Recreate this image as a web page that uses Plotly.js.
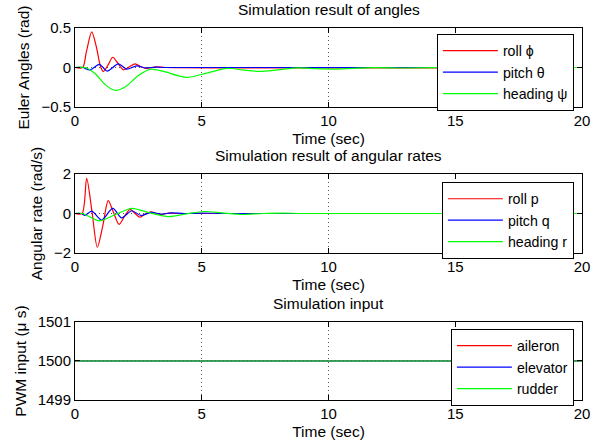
<!DOCTYPE html>
<html>
<head>
<meta charset="utf-8">
<script src="https://cdn.plot.ly/plotly-3.0.1.min.js"></script>
<style>html,body{margin:0;padding:0;background:#fff;}#chart{width:606px;height:445px;}</style>
</head>
<body>
<div id="chart"></div>
<script>
// ---- Panel 1: Euler angles (rad) ----
const rollPhiT = [0, 0.3, 0.45, 0.66, 0.85, 1.0, 1.12, 1.3, 1.49, 1.7, 1.91, 2.15, 2.37, 2.6, 2.8, 3.2, 3.6, 20];
const rollPhiV = [0, 0, 0.2, 0.45, 0.25, 0.02, -0.05, 0.03, 0.13, 0.05, -0.03, 0.01, 0.045, 0.01, -0.01, 0.008, 0, 0];
const pitchThetaT = [0, 0.3, 0.59, 0.96, 1.27, 1.71, 2.04, 2.43, 2.8, 3.2, 3.6, 20];
const pitchThetaV = [0, 0, -0.03, 0.04, -0.045, 0.045, -0.02, 0.02, -0.005, 0.005, 0, 0];
const headingPsiT = [0, 0.4, 0.8, 1.2, 1.6, 2.0, 2.5, 3.0, 3.5, 4.4, 5.2, 6.0, 6.6, 7.3, 8.0, 8.8, 9.5, 10.2, 11.0, 11.8, 13.0, 14.5, 20];
const headingPsiV = [0, 0, -0.08, -0.22, -0.29, -0.24, -0.1, -0.02, -0.05, -0.125, -0.07, -0.01, -0.03, -0.05, -0.03, -0.005, -0.015, -0.02, -0.01, -0.002, -0.006, 0, 0];

// ---- Panel 2: angular rates (rad/s) ----
const rollPT = [0, 0.28, 0.46, 0.67, 0.88, 1.1, 1.31, 1.52, 1.74, 1.95, 2.17, 2.37, 2.56, 2.8, 3.0, 3.2, 3.4, 3.7, 4.0, 20];
const rollPV = [0, 0, 1.78, 0.1, -1.71, -0.6, 0.65, 0.05, -0.55, -0.15, 0.21, 0, -0.19, 0, 0.08, 0, -0.05, 0.02, 0, 0];
const pitchQT = [0, 0.25, 0.39, 0.66, 1.05, 1.49, 1.84, 2.24, 2.6, 3.0, 3.4, 3.8, 4.3, 5.0, 6.0, 20];
const pitchQV = [0, 0, -0.1, 0.12, -0.33, 0.26, -0.22, 0.14, -0.1, 0.06, -0.03, 0.03, 0, 0.02, 0, 0];
const headingRT = [0, 0.3, 0.95, 1.6, 2.24, 2.9, 3.7, 4.4, 5.1, 5.8, 6.6, 7.4, 8.2, 9.0, 20];
const headingRV = [0, 0, -0.37, -0.05, 0.26, 0.05, -0.16, -0.02, 0.1, 0.03, -0.05, 0, 0.02, 0, 0];

// ---- Panel 3: PWM input (μs) ----
const inputT = [0, 20];
const aileronV = [1500, 1500];
const elevatorV = [1500, 1500];
const rudderV = [1500, 1500];

const titles = ['Simulation result of angles', 'Simulation result of angular rates', 'Simulation input'];
const yTitles = ['Euler Angles (rad)', 'Angular rate (rad/s)', 'PWM input (\u03bc s)'];
const xTitle = 'Time (sec)';

const RED = '#ff0000', BLUE = '#0000ff', GREEN = '#00ff00';
function tr(x, y, name, color, xa, ya, lg) {
  return {x: x, y: y, name: name, type: 'scatter', mode: 'lines',
    line: {color: color, width: 1.2, shape: 'spline', smoothing: 0.8},
    xaxis: xa, yaxis: ya, legend: lg};
}
const data = [
  tr(rollPhiT, rollPhiV, 'roll \u03d5', RED, 'x', 'y', 'legend'),
  tr(pitchThetaT, pitchThetaV, 'pitch \u03b8', BLUE, 'x', 'y', 'legend'),
  tr(headingPsiT, headingPsiV, 'heading \u03c8', GREEN, 'x', 'y', 'legend'),
  tr(rollPT, rollPV, 'roll p', RED, 'x2', 'y2', 'legend2'),
  tr(pitchQT, pitchQV, 'pitch q', BLUE, 'x2', 'y2', 'legend2'),
  tr(headingRT, headingRV, 'heading r', GREEN, 'x2', 'y2', 'legend2'),
  tr(inputT, aileronV, 'aileron', RED, 'x3', 'y3', 'legend3'),
  tr(inputT, elevatorV, 'elevator', BLUE, 'x3', 'y3', 'legend3'),
  tr(inputT, rudderV, 'rudder', GREEN, 'x3', 'y3', 'legend3')
];

const FONT = {family: 'Liberation Sans, Arial, sans-serif', size: 15, color: '#000'};
const TFONT = {family: 'Liberation Sans, Arial, sans-serif', size: 15.5, color: '#000'};
const LFONT = {family: 'Liberation Sans, Arial, sans-serif', size: 14.2, color: '#000'};
function xax(anchor) {
  return {anchor: anchor, range: [0, 20], dtick: 5, tick0: 0,
    showline: true, linecolor: '#000', linewidth: 1, mirror: 'allticks',
    ticks: 'inside', ticklen: 5, tickcolor: '#000',
    showgrid: true, gridcolor: '#555', griddash: '1px,3px', gridwidth: 1,
    zeroline: false, title: {text: xTitle, font: TFONT, standoff: 5},
    tickfont: FONT};
}
function yax(anchor, dom, range, dtick, title) {
  return {anchor: anchor, domain: dom, range: range, dtick: dtick,
    showline: true, linecolor: '#000', linewidth: 1, mirror: 'allticks',
    ticks: 'inside', ticklen: 5, tickcolor: '#000',
    showgrid: true, gridcolor: '#555', griddash: '1px,3px', gridwidth: 1,
    zeroline: false, title: {text: title, font: TFONT, standoff: 7},
    tickfont: FONT};
}
function leg(y) {
  return {x: 0.984, y: y, xanchor: 'right', yanchor: 'top', bgcolor: '#fff',
    bordercolor: '#000', borderwidth: 1, font: LFONT, itemwidth: 55, tracegroupgap: 0};
}
const d1 = [0.7876, 1], d2 = [0.3952, 0.6075], d3 = [0, 0.2097];
const layout = {
  width: 606, height: 445,
  margin: {l: 75, r: 24, t: 28, b: 45},
  paper_bgcolor: '#fff', plot_bgcolor: '#fff',
  font: FONT, showlegend: true,
  xaxis: xax('y'), yaxis: yax('x', d1, [-0.5, 0.5], 0.5, yTitles[0]),
  xaxis2: xax('y2'), yaxis2: yax('x2', d2, [-2, 2], 2, yTitles[1]),
  xaxis3: xax('y3'), yaxis3: yax('x3', d3, [1499, 1501], 1, yTitles[2]),
  legend: leg(0.984), legend2: leg(0.586), legend3: leg(0.191),
  annotations: [
    {text: titles[0], xref: 'paper', yref: 'paper', x: 0.5, y: d1[1], yshift: 8, xanchor: 'center', yanchor: 'bottom', showarrow: false, font: TFONT},
    {text: titles[1], xref: 'paper', yref: 'paper', x: 0.5, y: d2[1], yshift: 8, xanchor: 'center', yanchor: 'bottom', showarrow: false, font: TFONT},
    {text: titles[2], xref: 'paper', yref: 'paper', x: 0.5, y: d3[1], yshift: 8, xanchor: 'center', yanchor: 'bottom', showarrow: false, font: TFONT}
  ]
};
Plotly.newPlot('chart', data, layout, {displayModeBar: false, staticPlot: true});
</script>
</body>
</html>
